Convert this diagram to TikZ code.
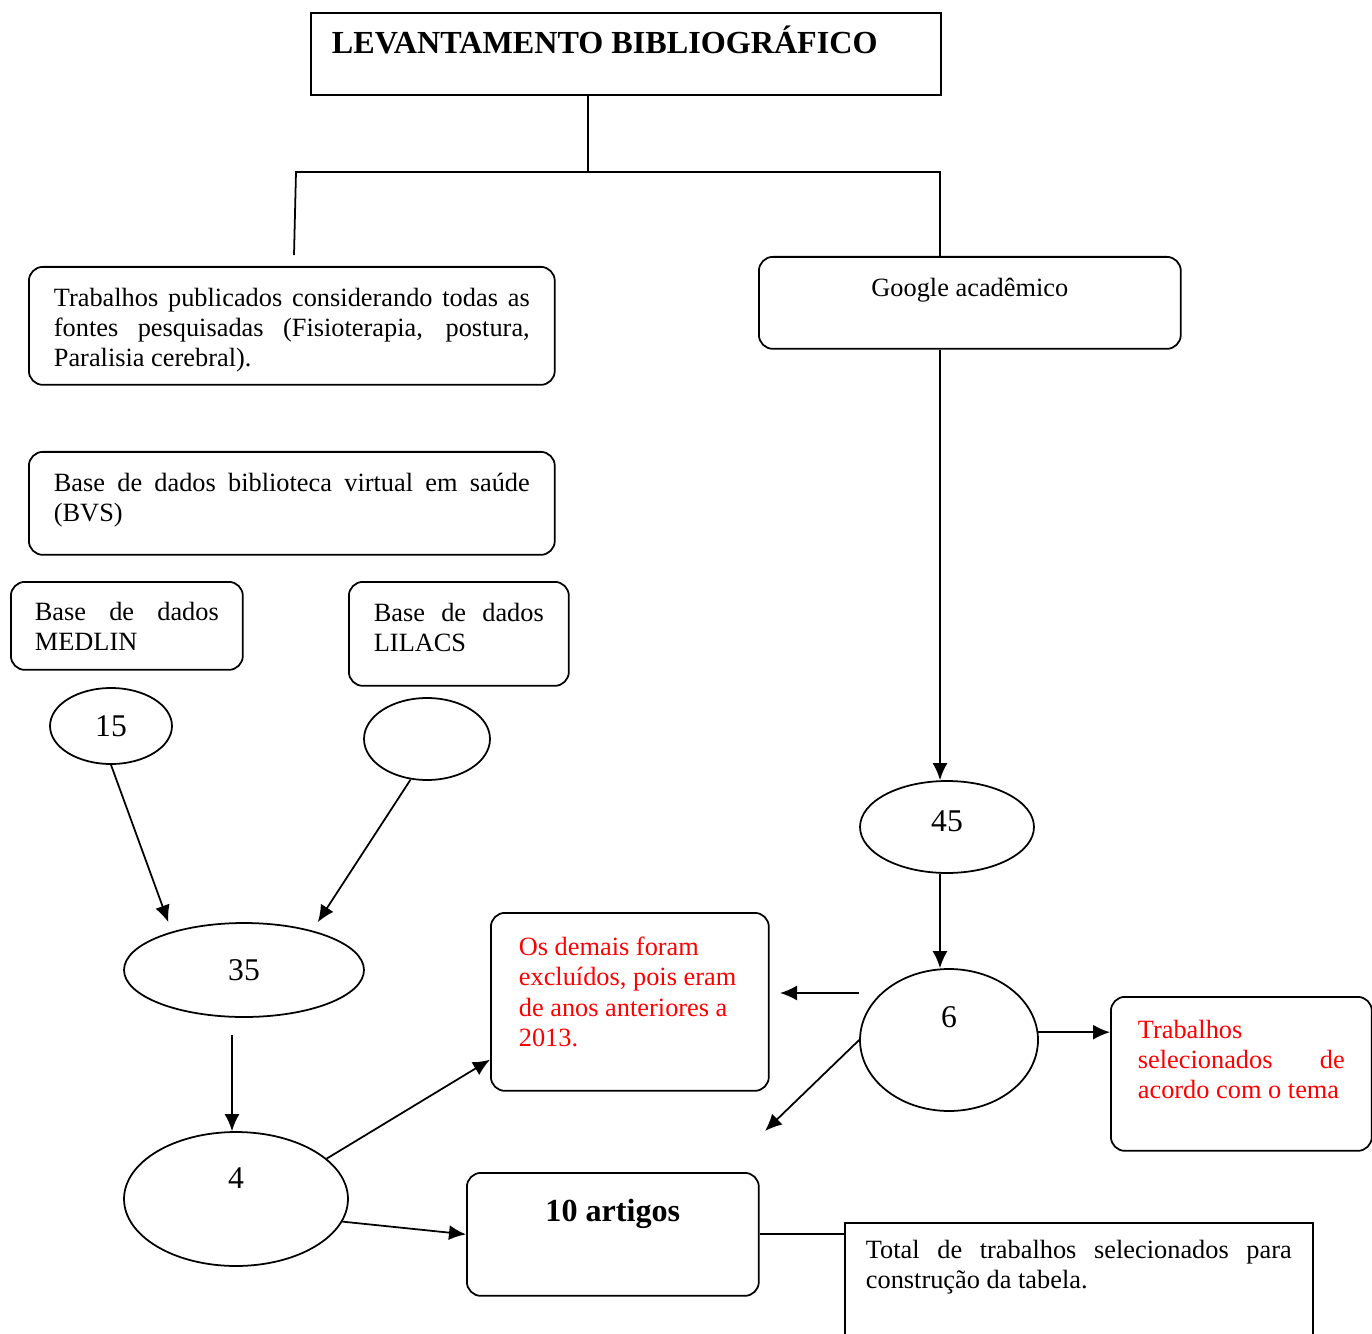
\documentclass[tikz,border=0pt]{standalone}
\usepackage{fontspec}
\setmainfont{Liberation Serif}
\usepackage{xcolor}
\usepackage{tikz}
\usetikzlibrary{arrows.meta,shapes.geometric,positioning}
\newcommand{\bodyfont}{\fontsize{15}{17.3}\selectfont}
\newcommand{\headfont}{\fontsize{18.3}{21}\selectfont\bfseries}
\newcommand{\countfont}{\fontsize{18}{21}\selectfont}
\newcommand{\boxtxt}[3]{\parbox[c][#1][t]{#2}{#3}}
\tikzset{
  rbox/.style={
    rectangle, rounded corners=8pt, draw=black, line width=1pt,
    anchor=north west, font=\bodyfont
  },
  sbox/.style={
    rectangle, draw=black, line width=1pt,
    anchor=north west, font=\bodyfont
  },
  count/.style={
    ellipse, draw=black, line width=1pt, inner sep=0pt, font=\countfont
  },
  arrow/.style={->, >={Latex[length=3.4mm,width=3mm]}, line width=1pt},
  link/.style={line width=1pt},
}
\begin{document}
\begin{tikzpicture}[x=0.02cm, y=-0.02cm]
  \useasboundingbox (0,0) rectangle (1372,1334);

  % Header and tree
  \node[sbox, inner xsep=0.42cm, inner ysep=0.26cm] (title) at (310,12)
    {\boxtxt{1.12cm}{11.76cm}{\headfont LEVANTAMENTO BIBLIOGRÁFICO}};
  \coordinate (split)   at (588,172);
  \coordinate (lcorner) at (296,172);
  \coordinate (rcorner) at (940,172);
  \coordinate (lend)    at (294,255);

  % Left column
  \node[rbox, inner xsep=0.5cm, inner ysep=0.42cm] (trab) at (28,266)
    {\boxtxt{1.52cm}{9.52cm}{Trabalhos publicados considerando todas as\linebreak
     fontes pesquisadas (Fisioterapia, postura,\linebreak Paralisia cerebral).}};
  \node[rbox, inner xsep=0.5cm, inner ysep=0.42cm] (bvs) at (28,451)
    {\boxtxt{1.22cm}{9.52cm}{Base de dados biblioteca virtual em saúde\linebreak (BVS)}};
  \node[rbox, inner xsep=0.48cm, inner ysep=0.4cm] (medlin) at (10,581)
    {\boxtxt{0.96cm}{3.68cm}{Base de dados\linebreak MEDLIN}};
  \node[rbox, inner xsep=0.5cm, inner ysep=0.42cm] (lilacs) at (348,581)
    {\boxtxt{1.24cm}{3.4cm}{Base de dados\linebreak LILACS}};

  \node[count, minimum width=2.44cm, minimum height=1.52cm] (n15) at (111,726) {15};
  \node[count, minimum width=2.52cm, minimum height=1.64cm] (nlil) at (427,739) {};
  \node[count, minimum width=4.8cm, minimum height=1.88cm] (n35) at (244,970) {35};
  \node[count, minimum width=4.48cm, minimum height=2.68cm,
        text depth=24pt] (n4) at (236,1199) {4};

  % Right column
  \node[rbox, inner xsep=0.5cm, inner ysep=0.42cm] (google) at (758,256)
    {\boxtxt{1.0cm}{7.44cm}{\centering Google acadêmico}};
  \node[count, minimum width=3.48cm, minimum height=1.84cm,
        text depth=7pt] (n45) at (947,827) {45};
  \node[count, minimum width=3.56cm, minimum height=2.84cm,
        text depth=26pt] (n6) at (949,1040) {6};

  % Results
  \node[rbox, inner xsep=0.56cm, inner ysep=0.48cm] (excl) at (490,912)
    {\boxtxt{2.6cm}{4.44cm}{\raggedright\color{red}Os demais foram\\
     excluídos, pois eram\\ de anos anteriores a\\ 2013.}};
  \node[rbox, inner xsep=0.54cm, inner ysep=0.46cm] (trabsel) at (1110,996)
    {\boxtxt{2.16cm}{4.14cm}{\color{red}Trabalhos\\ selecionados de\linebreak
     acordo com o tema}};
  \node[rbox, inner xsep=0.4cm, inner ysep=0.52cm] (artigos) at (466,1172)
    {\boxtxt{1.42cm}{5.04cm}{\centering\headfont 10 artigos}};
  \node[sbox, inner xsep=0.42cm, inner ysep=0.34cm] (total) at (844,1222)
    {\boxtxt{1.78cm}{8.52cm}{Total de trabalhos selecionados para\linebreak
     construção da tabela.}};

  \coordinate (exclin) at (780,993);
  \coordinate (sixout) at (765,1131);

  % Connectors
  \draw[link] (title.south -| split) -- (split);
  \draw[link] (lend) -- (lcorner) -- (rcorner) -- (google.north -| rcorner);
  \draw[arrow] (google.south -| rcorner) -- (n45.north -| rcorner);
  \draw[arrow, shorten >=0.2cm] (n15.south) -- (n35.152);
  \draw[arrow, shorten >=0.2cm] (nlil.248) -- (n35.30);
  \draw[arrow, shorten <=0.34cm] (n35.south -| 232,0) -- (n4.north -| 232,0);
  \draw[arrow] (n45.south -| rcorner) -- (n6.north -| rcorner);
  \draw[arrow] (n6.west |- exclin) -- (exclin);
  \draw[arrow] (n6.west) -- (sixout);
  \draw[arrow] (n6.5) -- (n6.5 -| trabsel.west);
  \draw[arrow] (n4.24) -- ([yshift=0.64cm]excl.south west);
  \draw[arrow] (n4.-12) -- (artigos.west);
  \draw[link] (artigos.east) -- (artigos.east -| total.west);

\end{tikzpicture}
\end{document}
